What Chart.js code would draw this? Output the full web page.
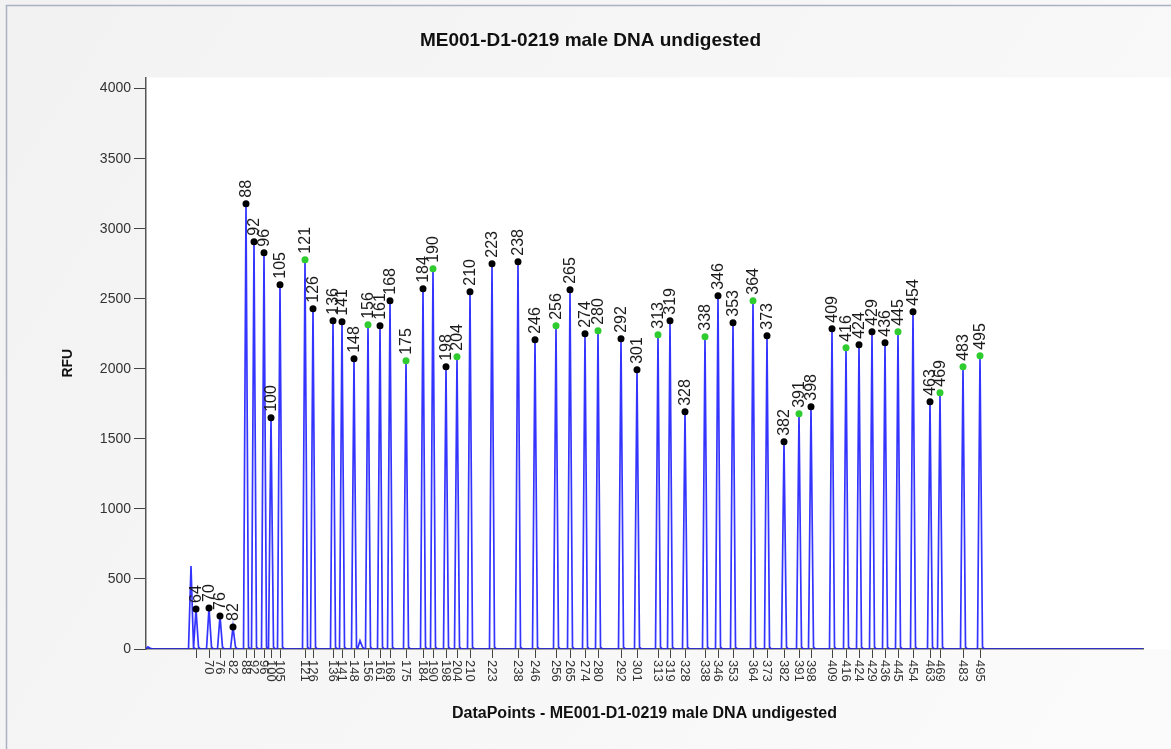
<!DOCTYPE html>
<html>
<head>
<meta charset="utf-8">
<title>ME001-D1-0219 male DNA undigested</title>
<script src="https://cdn.jsdelivr.net/npm/chart.js"></script>
<style>
  body { margin: 0; background: #fff; }
  #wrap { width: 1171px; height: 749px; position: relative; }
</style>
</head>
<body>
<div id="wrap"><canvas id="chart"></canvas></div>
<script>
// fragment sizes (bp) and where each peak sits on the data point axis
const sizes = [64, 70, 76, 82, 88, 92, 96, 100, 105, 121, 126, 136, 141, 148, 156, 161, 168, 175, 184, 190,
  198, 204, 210, 223, 238, 246, 256, 265, 274, 280, 292, 301, 313, 319, 328, 338, 346, 353, 364, 373,
  382, 391, 398, 409, 416, 424, 429, 436, 445, 454, 463, 469, 483, 495];
const dataPoints = [50, 63, 74, 87, 100, 108, 118, 125, 134, 159, 167, 187, 196, 208, 222, 234, 244, 260, 277, 287,
  300, 311, 324, 346, 372, 389, 410, 424, 439, 452, 475, 491, 512, 524, 539, 559, 572, 587, 607, 621,
  638, 653, 665, 686, 700, 713, 726, 739, 752, 767, 784, 794, 817, 834];
const rfu = [286, 293, 236, 157, 3179, 2907, 2829, 1650, 2600, 2779, 2429, 2343, 2336, 2071, 2314, 2307, 2486, 2057, 2571, 2714,
  2014, 2086, 2550, 2750, 2764, 2207, 2307, 2564, 2250, 2271, 2214, 1993, 2243, 2343, 1693, 2229, 2521, 2329, 2486, 2236,
  1479, 1679, 1729, 2286, 2150, 2171, 2264, 2186, 2264, 2407, 1764, 1829, 2014, 2093];
// peaks marked green in the original
const greenSizes = [121, 156, 175, 190, 204, 256, 280, 313, 338, 364, 391, 416, 445, 469, 483, 495];
// unlabelled peaks (noise and primer peak): data point, RFU
const otherPeakPos = [2, 45, 214];
const otherPeakRfu = [15, 593, 60];
const hiddenTickLabels = [64];
const yTicks = [0, 500, 1000, 1500, 2000, 2500, 3000, 3500, 4000];

// build the trace: every peak is a narrow spike back to baseline
const allPeaks = dataPoints.map((p, i) => ({ p: p, h: rfu[i] }))
  .concat(otherPeakPos.map((p, i) => ({ p: p, h: otherPeakRfu[i] })))
  .sort((a, b) => a.p - b.p);
const trace = [{ x: 0, y: 0 }];
allPeaks.forEach(pk => {
  trace.push({ x: pk.p - 2.5, y: 0 });
  trace.push({ x: pk.p, y: pk.h });
  trace.push({ x: pk.p + 2.5, y: Math.min(14, pk.h * 0.3) });
  trace.push({ x: pk.p + 4.5, y: 0 });
});
trace.push({ x: 997, y: 0 });

const dots = dataPoints.map((p, i) => ({ x: p, y: rfu[i] }));
const dotColors = sizes.map(s => greenSizes.includes(s) ? '#2ecc2e' : '#000000');

const backdrop = {
  id: 'backdrop',
  beforeDraw(chart) {
    const ctx = chart.ctx;
    const a = chart.chartArea;
    ctx.save();
    const g = ctx.createLinearGradient(0, 0, chart.width, chart.height);
    g.addColorStop(0, '#f2f2f2');
    g.addColorStop(1, '#fbfbfb');
    ctx.fillStyle = g;
    ctx.fillRect(0, 0, chart.width, chart.height);
    ctx.fillStyle = '#ffffff';
    ctx.fillRect(a.left, a.top, chart.width - a.left, a.bottom - a.top);
    ctx.strokeStyle = '#a9b1c2';
    ctx.lineWidth = 1.5;
    ctx.beginPath();
    ctx.moveTo(6.5, chart.height);
    ctx.lineTo(6.5, 5.5);
    ctx.lineTo(chart.width, 5.5);
    ctx.stroke();
    ctx.restore();
  }
};

const peakLabels = {
  id: 'peakLabels',
  afterDraw(chart) {
    const ctx = chart.ctx;
    const xs = chart.scales.x;
    const ys = chart.scales.y;
    ctx.save();
    // size labels above each peak
    ctx.font = '16px "Liberation Sans", Arial, sans-serif';
    ctx.fillStyle = '#1a1a1a';
    ctx.textAlign = 'left';
    ctx.textBaseline = 'middle';
    sizes.forEach((s, i) => {
      const x = xs.getPixelForValue(dataPoints[i]);
      const y = ys.getPixelForValue(rfu[i]);
      ctx.save();
      ctx.translate(x + 1, y - 6);
      ctx.rotate(-Math.PI / 2);
      ctx.fillText(String(s), 0, 0);
      ctx.restore();
    });
    // tick labels under the axis, reading downwards
    ctx.font = '13px "Liberation Sans", Arial, sans-serif';
    ctx.fillStyle = '#333333';
    sizes.forEach((s, i) => {
      if (hiddenTickLabels.includes(s)) return;
      const x = xs.getPixelForValue(dataPoints[i]);
      ctx.save();
      ctx.translate(x, xs.top + 11);
      ctx.rotate(Math.PI / 2);
      ctx.fillText(String(s), 0, 0);
      ctx.restore();
    });
    ctx.restore();
  }
};

new Chart(document.getElementById('chart'), {
  data: {
    datasets: [{
      type: 'line',
      label: 'trace',
      data: trace,
      borderColor: 'rgba(30, 30, 255, 0.9)',
      borderWidth: 1.7,
      pointRadius: 0,
      tension: 0,
      order: 2
    }, {
      type: 'scatter',
      label: 'peaks',
      data: dots,
      pointRadius: 3.5,
      pointBackgroundColor: dotColors,
      pointBorderColor: dotColors,
      pointBorderWidth: 0,
      order: 1
    }]
  },
  options: {
    responsive: true,
    maintainAspectRatio: false,
    animation: false,
    layout: { padding: { left: 38, right: 28, top: 0, bottom: 22 } },
    plugins: {
      legend: { display: false },
      tooltip: { enabled: false },
      title: {
        display: true,
        text: 'ME001-D1-0219 male DNA undigested',
        color: '#111',
        font: { family: '"Liberation Sans", Arial, sans-serif', size: 19, weight: 'bold' },
        padding: { top: 29, bottom: 25.6 }
      }
    },
    scales: {
      x: {
        type: 'linear',
        min: 0,
        max: 997,
        afterBuildTicks: scale => { scale.ticks = dataPoints.map(v => ({ value: v })); },
        afterFit: scale => { scale.height = 78; },
        ticks: { display: false },
        grid: { drawOnChartArea: false, drawTicks: true, tickLength: 9, color: '#444', lineWidth: 1 },
        border: { color: '#555', width: 1.5 },
        title: {
          display: true,
          text: 'DataPoints - ME001-D1-0219 male DNA undigested',
          color: '#111',
          font: { family: '"Liberation Sans", Arial, sans-serif', size: 16, weight: 'bold' },
          padding: { top: 4, bottom: 4 }
        }
      },
      y: {
        min: 0,
        max: 4080,
        afterBuildTicks: scale => { scale.ticks = yTicks.map(v => ({ value: v })); },
        afterFit: scale => { scale.width = 108; },
        ticks: {
          padding: 3,
          color: '#333',
          font: { family: '"Liberation Sans", Arial, sans-serif', size: 14 },
          callback: v => String(v)
        },
        grid: { drawOnChartArea: false, drawTicks: true, tickLength: 12, color: '#444', lineWidth: 1 },
        border: { color: '#555', width: 1.5 },
        title: {
          display: true,
          text: 'RFU',
          color: '#111',
          font: { family: '"Liberation Sans", Arial, sans-serif', size: 14, weight: 'bold' },
          padding: { top: 22, bottom: 4 }
        }
      }
    }
  },
  plugins: [backdrop, peakLabels]
});
</script>
</body>
</html>
